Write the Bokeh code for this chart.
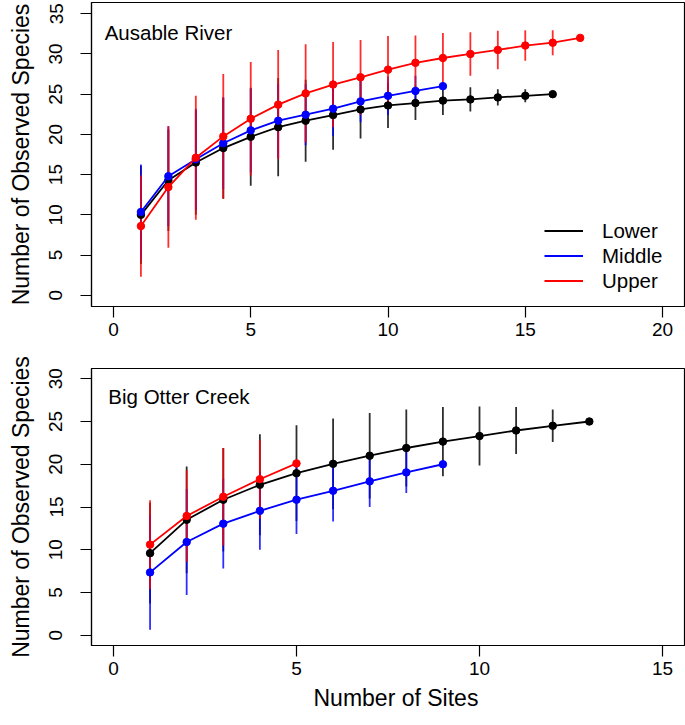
from bokeh.plotting import figure
from bokeh.layouts import column
from bokeh.models import Label, Legend, LegendItem, Range1d, Title
from bokeh.embed import file_html
from bokeh.resources import INLINE

# ---------------- data ----------------
# Ausable River
aus_lower_x = list(range(1, 17))
aus_lower_y = [10.0, 14.3, 16.5, 18.3, 19.7, 20.9, 21.7, 22.4, 23.1, 23.6, 23.9, 24.2, 24.35, 24.6, 24.8, 25.0]
aus_lower_sd = [6.1, 6.3, 6.5, 6.3, 6.1, 6.1, 5.1, 4.3, 3.6, 2.8, 2.1, 1.8, 1.5, 1.0, 0.8, 0.0]
aus_middle_x = list(range(1, 13))
aus_middle_y = [10.35, 14.8, 16.9, 18.9, 20.5, 21.7, 22.45, 23.2, 24.1, 24.8, 25.4, 26.0]
aus_middle_sd = [5.9, 6.2, 6.3, 5.7, 5.2, 4.6, 3.8, 3.4, 2.6, 2.4, 1.9, 0.0]
aus_upper_x = list(range(1, 18))
aus_upper_y = [8.6, 13.45, 17.1, 19.75, 21.95, 23.7, 25.1, 26.2, 27.1, 28.05, 28.9, 29.5, 30.0, 30.5, 31.05, 31.4, 32.0]
aus_upper_sd = [6.3, 7.55, 7.7, 7.75, 7.05, 6.8, 6.1, 5.3, 4.65, 4.2, 3.4, 3.1, 2.7, 2.4, 1.9, 1.55, 0.0]

# Big Otter Creek
boc_lower_x = list(range(1, 14))
boc_lower_y = [9.6, 13.5, 15.85, 17.6, 18.95, 20.05, 21.0, 21.9, 22.65, 23.3, 23.95, 24.5, 25.0]
boc_lower_sd = [5.9, 6.25, 6.05, 5.9, 5.6, 5.3, 5.0, 4.5, 4.05, 3.45, 2.75, 1.9, 0.0]
boc_middle_x = list(range(1, 10))
boc_middle_y = [7.35, 10.9, 13.05, 14.55, 15.85, 16.9, 18.0, 19.05, 20.0]
boc_middle_sd = [6.7, 6.2, 5.25, 4.55, 4.0, 3.6, 3.0, 2.4, 0.0]
boc_upper_x = list(range(1, 6))
boc_upper_y = [10.6, 13.95, 16.2, 18.25, 20.1]
boc_upper_sd = [5.2, 5.35, 5.7, 4.6, 0.0]

group_names = ["Lower", "Middle", "Upper"]
group_colors = ["#000000", "#0000FF", "#FF0000"]

top_xticks = [0, 5, 10, 15, 20]
top_yticks = [0, 5, 10, 15, 20, 25, 30, 35]
bot_xticks = [0, 5, 10, 15]
bot_yticks = [0, 5, 10, 15, 20, 25, 30]

FONT = "Liberation Sans"


def style(p, xticks, yticks):
    p.xgrid.visible = False
    p.ygrid.visible = False
    p.outline_line_color = "black"
    p.outline_line_width = 1.2
    p.background_fill_color = "white"
    p.border_fill_color = "white"
    p.xaxis.ticker = xticks
    p.yaxis.ticker = yticks
    for ax in (p.xaxis[0], p.yaxis[0]):
        ax.axis_line_color = "black"
        ax.axis_line_width = 1.2
        ax.major_tick_line_color = "black"
        ax.major_tick_line_width = 1.2
        ax.major_tick_out = 11
        ax.major_tick_in = 0
        ax.minor_tick_line_color = None
        ax.major_label_text_font = FONT
        ax.major_label_text_font_size = "19px"
        ax.major_label_text_color = "black"
        ax.axis_label_text_font = FONT
        ax.axis_label_text_font_size = "23px"
        ax.axis_label_text_font_style = "normal"
        ax.axis_label_text_color = "black"
    p.yaxis.major_label_orientation = "vertical"
    p.yaxis.major_label_standoff = 18
    p.yaxis.axis_label = "Number of Observed Species"
    p.yaxis.axis_label_standoff = 13
    p.xaxis.major_label_standoff = 5


def draw(p, groups):
    # error bars first
    for (xs, ys, sds), col in zip(groups, group_colors):
        bx = [x for x, s in zip(xs, sds) if s > 0]
        lo = [y - s for y, s in zip(ys, sds) if s > 0]
        hi = [y + s for y, s in zip(ys, sds) if s > 0]
        p.segment(x0=bx, y0=lo, x1=bx, y1=hi, line_color=col, line_width=1.8, line_alpha=0.82)
    renderers = []
    for (xs, ys, sds), col in zip(groups, group_colors):
        r = p.line(xs, ys, line_color=col, line_width=1.8)
        p.scatter(xs, ys, size=7.5, fill_color=col, line_color=col)
        renderers.append(r)
    return renderers


# ---------------- top panel ----------------
p1 = figure(frame_width=593, frame_height=304,
            x_range=Range1d(-0.8, 20.8), y_range=Range1d(-1.4, 36.4),
            output_backend="svg", toolbar_location=None,
            min_border_left=91, min_border_right=1, min_border_top=2, min_border_bottom=40)
style(p1, top_xticks, top_yticks)
r1 = draw(p1, [(aus_lower_x, aus_lower_y, aus_lower_sd),
               (aus_middle_x, aus_middle_y, aus_middle_sd),
               (aus_upper_x, aus_upper_y, aus_upper_sd)])
p1.add_layout(Label(x=-0.32, y=32.7, text="Ausable River", text_font=FONT,
                    text_font_size="20.5px", text_baseline="alphabetic", text_color="black"))
legend = Legend(items=[LegendItem(label=n, renderers=[r]) for n, r in zip(group_names, r1)],
                location=(453, 13), border_line_color=None, background_fill_alpha=0,
                label_text_font=FONT, label_text_font_size="20.5px", label_text_color="black",
                glyph_width=39, glyph_height=25, label_height=25, label_standoff=19,
                spacing=0, padding=0, margin=0)
p1.add_layout(legend)

# ---------------- bottom panel ----------------
p2 = figure(frame_width=593, frame_height=277,
            x_range=Range1d(-0.6, 15.6), y_range=Range1d(-1.2, 31.2),
            output_backend="svg", toolbar_location=None,
            min_border_left=91, min_border_right=1, min_border_top=22, min_border_bottom=4)
style(p2, bot_xticks, bot_yticks)
draw(p2, [(boc_lower_x, boc_lower_y, boc_lower_sd),
          (boc_middle_x, boc_middle_y, boc_middle_sd),
          (boc_upper_x, boc_upper_y, boc_upper_sd)])
p2.add_layout(Label(x=-0.14, y=27.9, text="Big Otter Creek", text_font=FONT,
                    text_font_size="20.5px", text_baseline="alphabetic", text_color="black"))
p2.add_layout(Title(text="Number of Sites", align="left", offset=222, standoff=10,
                    text_font=FONT, text_font_size="23px", text_font_style="normal",
                    text_color="black"), "below")

layout = column(p1, p2, spacing=0)
open("out.html", "w").write(file_html(layout, INLINE))
